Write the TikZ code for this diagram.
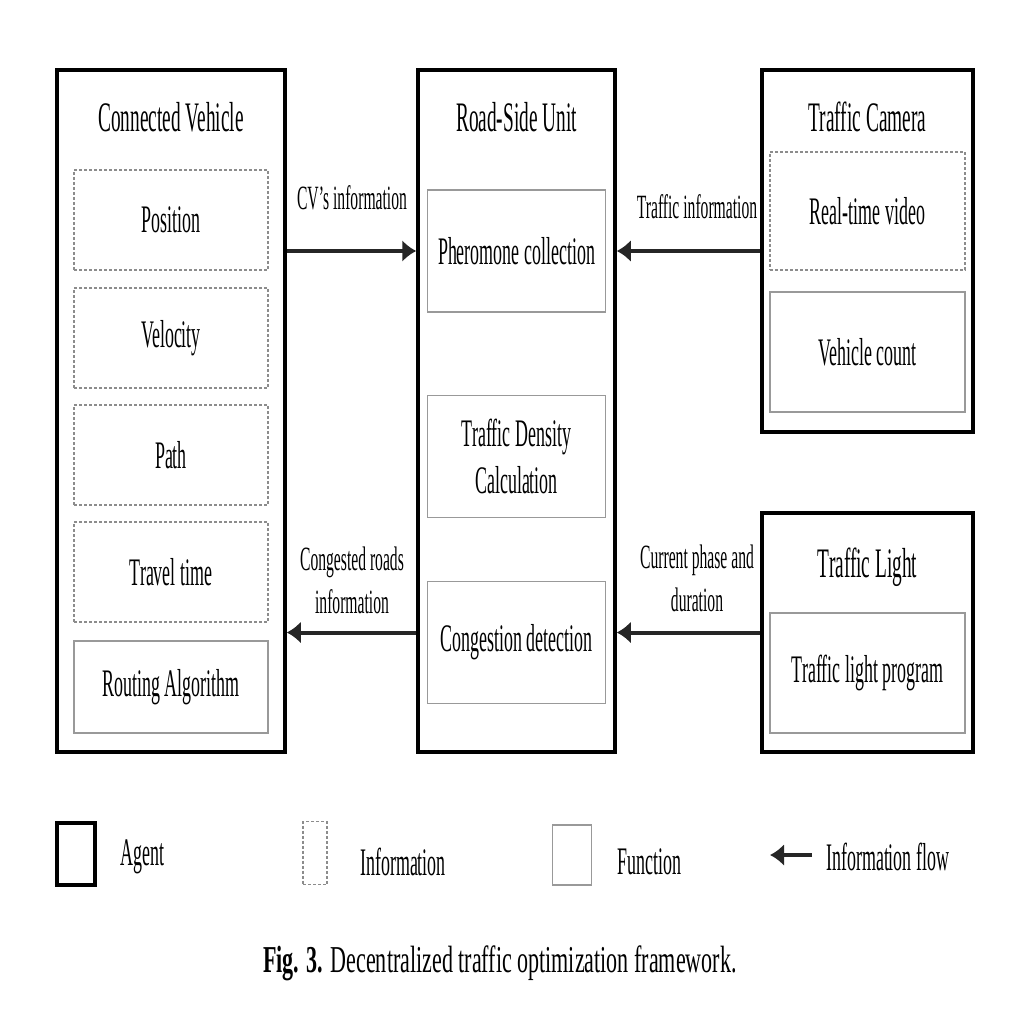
\documentclass[tikz,border=0pt]{standalone}
\usepackage{fontspec}
\setmainfont[FakeStretch=0.46]{Liberation Serif}
\newfontfamily\capfont[FakeStretch=0.58]{Liberation Serif}
\usepackage{tikz}
\usetikzlibrary{positioning,arrows.meta}

\begin{document}
\begin{tikzpicture}[x=1pt, y=-1pt,
    every node/.style={inner sep=0pt, align=center},
    agent/.style={draw=black, line width=3.5pt, rectangle},
    info/.style={draw=black!45, line width=1.3pt, dash pattern=on 3pt off 2pt, rectangle},
    func/.style={draw=black!40, line width=1.8pt, rectangle},
    title/.style={font=\fontsize{42}{46}\selectfont},
    txt/.style={font=\fontsize{39}{47}\selectfont},
    lbl/.style={font=\fontsize{34}{43}\selectfont},
    flow/.style={-{Latex[length=14pt,width=22pt]}, line width=4pt, draw=black!85}]
        \useasboundingbox[fill=white] (0,0) rectangle (1024,1024);

        % Agents
        \node[agent, minimum width=228pt, minimum height=682pt] (cv) at (171,411) {};
        \node[agent, minimum width=197pt, minimum height=682pt] (rsu) at (516.5,411) {};
        \node[agent, minimum width=211pt, minimum height=362pt] (cam) at (867.5,251) {};
        \node[agent, minimum width=211pt, minimum height=239pt] (light) at (867.5,632.5) {};

        \node[title] (cvtitle) at (171,117) {Connected Vehicle};
        \node[title] (rsutitle) at (516.5,117) {Road-Side Unit};
        \node[title] (camtitle) at (867.5,117) {Traffic Camera};
        \node[title] (lighttitle) at (867.5,567) {Traffic Light};

        % Connected vehicle: information and routing
        \node[info, txt, minimum width=194pt, minimum height=100pt] (position) at (171,220) {Position};
        \node[info, txt, minimum width=194pt, minimum height=100pt] (velocity) at (171,338) {Velocity};
        \node[info, txt, minimum width=194pt, minimum height=100pt] (path) at (171,455) {Path};
        \node[info, txt, minimum width=194pt, minimum height=100pt] (travel) at (171,572) {Travel time};
        \node[func, txt, minimum width=194pt, minimum height=92pt] (routing) at (171,687) {Routing Algorithm};

        % Road-side unit functions
        \node[func, txt, minimum width=178pt, minimum height=122pt] (phero) at (516.5,251) {Pheromone collection};
        \node[func, txt, minimum width=178pt, minimum height=122pt] (density) at (516.5,456.5) {Traffic Density\\Calculation};
        \node[func, txt, minimum width=178pt, minimum height=122pt] (congest) at (516.5,642.5) {Congestion detection};

        % Camera and light
        \node[info, txt, minimum width=195pt, minimum height=118pt] (video) at (867.5,211) {Real-time video};
        \node[func, txt, minimum width=195pt, minimum height=120pt] (count) at (867.5,352) {Vehicle count};
        \node[func, txt, minimum width=195pt, minimum height=120pt] (program) at (867.5,673) {Traffic light program};

        % Information flow
        \draw[flow] (cv.east |- phero) -- (phero -| rsu.west);
        \draw[flow] (cam.west |- phero) -- (phero -| rsu.east);
        \draw[flow] (light.west) -- (light.west -| rsu.east);
        \draw[flow] (light.west -| rsu.west) -- (light.west -| cv.east);

        \node[lbl] (cvinfo) at (352,198) {CV's information};
        \node[lbl] (trafinfo) at (697,207) {Traffic information};
        \node[lbl] (conginfo) at (352,580) {Congested roads\\information};
        \node[lbl] (phaseinfo) at (697,578) {Current phase and\\duration};

        % Legend
        \node[agent, minimum width=38pt, minimum height=62pt] (agentkey) at (76,854) {};
        \node[info, minimum width=24pt, minimum height=63pt] (infokey) at (315,853) {};
        \node[func, minimum width=39pt, minimum height=60pt] (funckey) at (572,855) {};
        \coordinate (flowstart) at (812,855);
        \coordinate (flowend) at (770,855);
        \draw[flow] (flowstart) -- (flowend);

        \node[txt, anchor=west] (agenttxt) at (120,857) {Agent};
        \node[txt, anchor=west] (infotxt) at (360,862) {Information};
        \node[txt, anchor=west] (functxt) at (617,862) {Function};
        \node[txt, anchor=west] (flowtxt) at (826,857) {Information flow};

        \node[font=\capfont\fontsize{38}{42}\selectfont] (caption) at (500,963) {\textbf{Fig. 3.} Decentralized traffic optimization framework.};
      \end{tikzpicture}
\end{document}
